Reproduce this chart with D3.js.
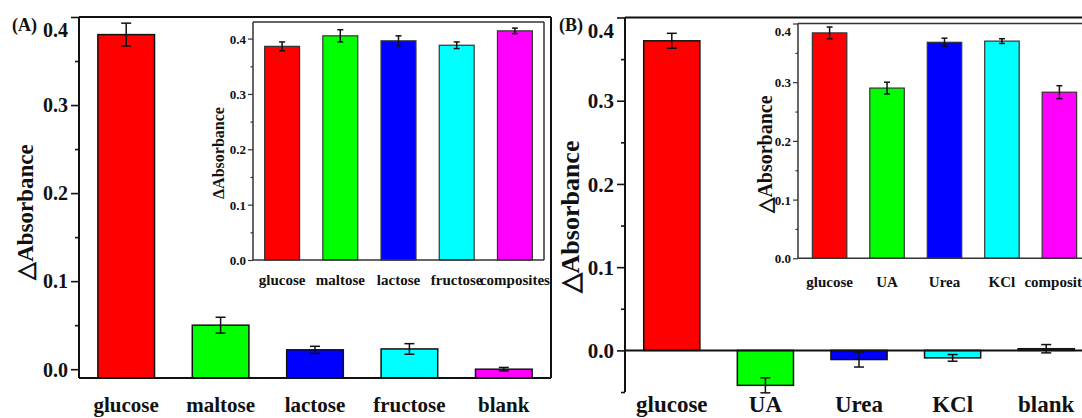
<!DOCTYPE html>
<html>
<head>
<meta charset="utf-8">
<script src="https://cdn.jsdelivr.net/npm/d3@7"></script>
<style>
  html, body { margin: 0; padding: 0; background: #fff; }
  svg { display: block; }
</style>
</head>
<body>
<svg id="chart" width="1082" height="418"></svg>
<script>
// Selectivity: change in absorbance for each analyte (main panels) and
// for glucose measured alongside possible interferents (insets).
const FONT = "'Liberation Serif', 'Times New Roman', Times, serif";

const barColors = ["#ff0000", "#00ff00", "#0000ff", "#00ffff", "#ff00ff"];

const mainACategories = ["glucose", "maltose", "lactose", "fructose", "blank"];
const mainAValues = [0.380, 0.050, 0.022, 0.023, 0.000];
const mainAErrors = [0.013, 0.009, 0.004, 0.006, 0.002];

const insetACategories = ["glucose", "maltose", "lactose", "fructose", "composites"];
const insetAValues = [0.386, 0.405, 0.396, 0.388, 0.414];
const insetAErrors = [0.008, 0.011, 0.009, 0.006, 0.005];

const mainBCategories = ["glucose", "UA", "Urea", "KCl", "blank"];
const mainBValues = [0.372, -0.042, -0.011, -0.009, 0.002];
const mainBErrors = [0.009, 0.009, 0.009, 0.004, 0.005];

const insetBCategories = ["glucose", "UA", "Urea", "KCl", "composites"];
const insetBValues = [0.384, 0.290, 0.368, 0.370, 0.283];
const insetBErrors = [0.010, 0.010, 0.007, 0.004, 0.011];

const majorTicks = [0.0, 0.1, 0.2, 0.3, 0.4];
const minorTicksA = [0.05, 0.15, 0.25, 0.35];
const minorTicksB = [-0.05, 0.05, 0.15, 0.25, 0.35];

const svg = d3.select("#chart");

function styleText(sel, size) {
  return sel
    .style("font-family", FONT)
    .style("font-weight", "bold")
    .style("font-size", size + "px")
    .attr("fill", "#111");
}

function drawPanel(o) {
  const g = svg.append("g");
  const x = d3.scaleBand()
    .domain(o.categories)
    .range(o.xRange)
    .paddingInner(0.4)
    .paddingOuter(o.padOuter);
  const y = d3.scaleLinear().domain(o.yDomain).range(o.yRange);
  const base = o.baseline;

  // bars
  g.selectAll("rect.bar")
    .data(o.values)
    .join("rect")
    .attr("class", "bar")
    .attr("x", (d, i) => x(o.categories[i]))
    .attr("width", x.bandwidth())
    .attr("y", d => Math.min(y(d), y(base)))
    .attr("height", d => Math.abs(y(d) - y(base)))
    .attr("fill", (d, i) => barColors[i])
    .attr("stroke", o.barStroke)
    .attr("stroke-width", o.barStrokeWidth);

  // error bars
  const eb = g.selectAll("g.err")
    .data(o.values)
    .join("g")
    .attr("class", "err")
    .attr("stroke", "#111")
    .attr("stroke-width", 1.5);
  const cx = (i) => x(o.categories[i]) + x.bandwidth() / 2;
  eb.append("line")
    .attr("x1", (d, i) => cx(i)).attr("x2", (d, i) => cx(i))
    .attr("y1", (d, i) => y(d - o.errors[i])).attr("y2", (d, i) => y(d + o.errors[i]));
  eb.append("line")
    .attr("x1", (d, i) => cx(i) - o.cap).attr("x2", (d, i) => cx(i) + o.cap)
    .attr("y1", (d, i) => y(d - o.errors[i])).attr("y2", (d, i) => y(d - o.errors[i]));
  eb.append("line")
    .attr("x1", (d, i) => cx(i) - o.cap).attr("x2", (d, i) => cx(i) + o.cap)
    .attr("y1", (d, i) => y(d + o.errors[i])).attr("y2", (d, i) => y(d + o.errors[i]));

  // frame lines
  const [x0, x1] = o.xRange;
  const yTop = o.yRange[1], yBot = o.yRange[0];
  const frame = g.append("g").attr("stroke", o.frameColor).attr("stroke-width", o.frameWidth).attr("fill", "none");
  frame.append("line").attr("x1", x0).attr("x2", x0).attr("y1", yTop).attr("y2", yBot);
  frame.append("line").attr("x1", x0).attr("x2", x1).attr("y1", yTop).attr("y2", yTop);
  if (o.closed) {
    frame.append("line").attr("x1", x1).attr("x2", x1).attr("y1", yTop).attr("y2", yBot);
    frame.append("line").attr("x1", x0).attr("x2", x1).attr("y1", yBot).attr("y2", yBot);
  }
  if (o.zeroLine) {
    frame.append("line").attr("x1", x0).attr("x2", x1).attr("y1", y(0)).attr("y2", y(0));
  }

  // y axis: major ticks with labels, minor ticks without
  const major = g.append("g")
    .attr("transform", `translate(${x0},0)`)
    .call(d3.axisLeft(y).tickValues(majorTicks).tickSize(o.tickLen).tickPadding(o.tickPad).tickFormat(d3.format(".1f")));
  const minor = g.append("g")
    .attr("transform", `translate(${x0},0)`)
    .call(d3.axisLeft(y).tickValues(o.minorTicks).tickSize(o.tickLen / 2).tickFormat(""));
  [major, minor].forEach(a => {
    a.select(".domain").remove();
    a.selectAll("line").attr("stroke", o.frameColor).attr("stroke-width", o.frameWidth * 0.8);
  });
  styleText(major.selectAll("text"), o.tickFont)
    .attr("dy", d => d === o.yDomain[1] && o.nudgeTop ? "0.95em" : "0.34em");

  // category labels
  styleText(g.selectAll("text.cat")
    .data(o.categories)
    .join("text")
    .attr("class", "cat")
    .attr("x", d => x(d) + x.bandwidth() / 2)
    .attr("y", o.labelY)
    .attr("text-anchor", "middle"), o.labelFont)
    .text(d => d);

  // y title
  styleText(g.append("text")
    .attr("transform", `translate(${o.titleX},${o.titleY}) rotate(-90)`)
    .attr("text-anchor", "middle")
    .attr("dominant-baseline", "central"), o.titleFont)
    .text(o.title);
}

// Panel (A): main
drawPanel({
  categories: mainACategories, values: mainAValues, errors: mainAErrors,
  xRange: [79, 551], padOuter: 0.2,
  yDomain: [-0.01, 0.4], yRange: [378, 17], baseline: -0.01,
  minorTicks: minorTicksA, tickLen: 8, tickPad: 3, tickFont: 20, nudgeTop: true,
  barStroke: "#111", barStrokeWidth: 1.5, cap: 5,
  frameColor: "#111", frameWidth: 2, closed: true, zeroLine: false,
  labelY: 412, labelFont: 21,
  title: "\u25B3Absorbance", titleX: 25, titleY: 212, titleFont: 23
});

// Panel (A): inset
drawPanel({
  categories: insetACategories, values: insetAValues, errors: insetAErrors,
  xRange: [253, 544], padOuter: 0.2,
  yDomain: [0, 0.43], yRange: [260, 22], baseline: 0,
  minorTicks: minorTicksA, tickLen: 5, tickPad: 2, tickFont: 13, nudgeTop: false,
  barStroke: "#333", barStrokeWidth: 1.2, cap: 3,
  frameColor: "#333", frameWidth: 1.5, closed: true, zeroLine: false,
  labelY: 285, labelFont: 15,
  title: "\u0394Absorbance", titleX: 218, titleY: 153, titleFont: 16
});

// Panel (B): main
drawPanel({
  categories: mainBCategories, values: mainBValues, errors: mainBErrors,
  xRange: [625, 1093], padOuter: 0.2,
  yDomain: [-0.05, 0.4], yRange: [392, 17.5], baseline: 0,
  minorTicks: minorTicksB, tickLen: 8, tickPad: 3, tickFont: 21, nudgeTop: true,
  barStroke: "#111", barStrokeWidth: 1.5, cap: 5,
  frameColor: "#111", frameWidth: 2, closed: false, zeroLine: true,
  labelY: 412, labelFont: 23,
  title: "\u25B3Absorbance", titleX: 570, titleY: 217, titleFont: 26
});

// Panel (B): inset
drawPanel({
  categories: insetBCategories, values: insetBValues, errors: insetBErrors,
  xRange: [798, 1091], padOuter: 0.25,
  yDomain: [0, 0.4], yRange: [258.3, 23.5], baseline: 0,
  minorTicks: minorTicksA, tickLen: 5, tickPad: 2, tickFont: 13, nudgeTop: true,
  barStroke: "#333", barStrokeWidth: 1.2, cap: 3,
  frameColor: "#333", frameWidth: 1.5, closed: true, zeroLine: false,
  labelY: 287, labelFont: 15,
  title: "\u25B3Absorbance", titleX: 765, titleY: 154, titleFont: 20
});

// panel letters
styleText(svg.append("text").attr("x", 12).attr("y", 31), 18).text("(A)");
styleText(svg.append("text").attr("x", 559).attr("y", 31), 18).text("(B)");
</script>
</body>
</html>
